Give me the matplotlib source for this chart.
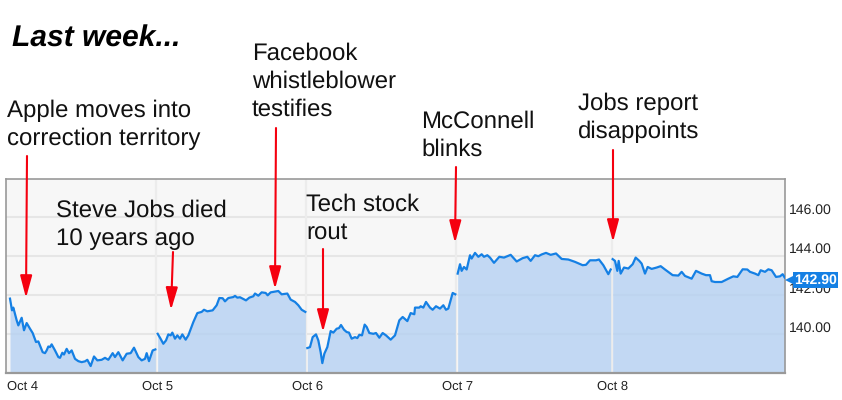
import matplotlib
matplotlib.use("Agg")
import matplotlib.pyplot as plt
from matplotlib.transforms import ScaledTranslation

# time axis: arbitrary intraday units, prices in USD
t1 = [30,36,40,50,55,65,72,80,90,98,108,115,128,135,140,145,150,155,165,175,180,187,192,200,207,215,225,235,245,255,262,272,282,292,305,315,325,338,345,355,368,380,392,402,415,425,435,440,447,458,466]
p1 = [141.83,141.23,141.37,140.72,140.46,140.85,140.21,140.58,140.29,140.07,139.61,139.64,139.09,139.04,139.18,139.38,139.35,139.49,139.18,138.84,138.80,139.06,138.97,139.26,139.04,139.18,138.75,138.63,138.58,138.62,138.70,138.38,138.87,138.67,138.70,138.80,138.70,139.04,138.84,139.09,138.67,139.01,139.04,139.32,138.84,138.67,138.75,139.04,138.63,139.18,139.23]
t2 = [473,480,490,498,505,512,517,525,532,540,547,557,565,580,592,605,612,622,638,650,658,668,675,685,700,705,712,720,738,748,760,765,775,785,797,803,812,835,845,862,872,885,895,905,916]
p2 = [140.03,139.83,139.52,139.69,140.00,139.95,140.09,139.78,139.95,139.78,140.00,139.73,139.95,140.63,141.09,141.15,141.26,141.18,141.23,141.49,141.86,141.85,141.69,141.86,141.91,141.97,141.88,141.90,141.74,141.88,141.95,142.09,141.98,142.15,142.12,142.00,142.15,142.22,142.05,142.09,141.78,141.66,141.49,141.26,141.15]
t3 = [922,930,938,948,955,962,967,973,982,992,1000,1010,1017,1023,1032,1040,1047,1055,1065,1072,1078,1086,1094,1100,1108,1120,1128,1138,1148,1158,1172,1185,1198,1208,1222,1232,1243,1245,1258,1262,1270,1278,1290,1298,1308,1320,1330,1338,1345,1358,1366]
p3 = [139.30,139.35,139.86,140.00,139.69,139.09,138.53,139.01,139.35,140.17,140.09,140.29,140.32,140.48,140.24,140.12,140.09,139.78,139.86,139.81,139.98,139.95,140.50,140.38,140.07,140.03,140.07,139.83,140.07,139.95,139.73,139.95,140.72,140.89,140.68,141.09,141.03,141.37,141.37,141.44,141.37,141.66,141.37,141.26,141.44,141.32,141.49,141.26,141.32,142.12,142.05]
t4 = [1373,1380,1385,1392,1400,1410,1415,1425,1435,1445,1452,1462,1470,1482,1498,1512,1532,1550,1568,1582,1592,1605,1615,1625,1638,1652,1668,1685,1705,1725,1748,1758,1770,1788,1797,1810,1825,1832]
p4 = [143.11,143.59,143.25,143.45,143.32,144.05,143.88,144.17,143.97,144.10,143.97,144.05,143.93,143.66,143.97,143.93,144.07,143.73,143.90,143.97,143.76,144.05,144.00,144.09,144.17,144.07,144.14,143.86,143.83,143.71,143.54,143.56,143.79,143.79,143.83,143.54,143.08,143.32]
t5 = [1838,1845,1852,1856,1862,1872,1885,1892,1898,1907,1918,1925,1935,1943,1955,1970,1982,1995,2018,2035,2045,2055,2075,2088,2105,2118,2130,2135,2145,2165,2185,2200,2212,2228,2242,2250,2265,2275,2282,2295,2305,2315,2328,2340,2348,2354]
p5 = [143.85,143.76,143.25,143.76,143.11,143.42,143.37,143.49,143.59,143.93,143.76,143.62,143.11,143.45,143.35,143.42,143.49,143.32,143.03,143.01,143.20,142.99,142.85,143.25,143.11,143.03,143.03,142.72,142.68,142.68,142.85,142.97,142.94,143.33,143.32,143.20,143.11,143.03,143.28,143.20,143.33,143.28,142.94,142.97,143.08,142.91]
sessions = [(t1, p1), (t2, p2), (t3, p3), (t4, p4), (t5, p5)]

session_starts = [469, 919, 1369, 1835]
day_labels = ["Oct 4", "Oct 5", "Oct 6", "Oct 7", "Oct 8"]
day_ticks = [22, 472, 922, 1372, 1838]
price_ticks = [140, 142, 144, 146]
last_price = 142.90

notes = [
    (["Apple moves into", "correction territory"], 7, 117, (27, 156), (26, 298)),
    (["Steve Jobs died", "10 years ago"], 56, 217, (173, 252), (171, 310)),
    (["Facebook", "whistleblower", "testifies"], 252, 60, (276, 128), (275, 289)),
    (["Tech stock", "rout"], 306, 211, (323, 249), (323, 332)),
    (["McConnell", "blinks"], 421, 128, (456, 167), (455, 243)),
    (["Jobs report", "disappoints"], 578, 110.5, (613, 150), (613, 242)),
]

plt.rcParams["font.family"] = ["Liberation Sans", "DejaVu Sans"]
plt.rcParams["text.hinting"] = "no_hinting"
plt.rcParams["text.hinting_factor"] = 1
W, H = 842, 400
fig = plt.figure(figsize=(W / 100, H / 100), dpi=100, facecolor="white")
ax = fig.add_axes([6 / W, (H - 372.5) / H, 779 / W, 193.5 / H])
ax.set_facecolor("#f7f7f7")
ax.set_xlim(18, 2355)
ax.set_ylim(138.05, 147.95)

for y in price_ticks:
    ax.axhline(y, color="#e6e6e6", lw=1.5, zorder=1)
for x in session_starts:
    ax.axvline(x, color="#ececec", lw=1.6, zorder=1)

for t, p in sessions:
    ax.fill_between(t, p, 138.05, color="#b3d0f2", alpha=0.78, lw=0, zorder=2)
    ax.plot(t, p, color="#1580e4", lw=1.6, solid_joinstyle="round", zorder=3)

for s in ax.spines.values():
    s.set_color("#999999")
    s.set_linewidth(1.2)
ax.spines["bottom"].set_linewidth(1.6)

ax.yaxis.tick_right()
ax.set_yticks(price_ticks)
ax.set_yticklabels([f"{v:.2f}" for v in price_ticks], fontsize=10, color="#222222",
                   va="bottom")
down = ScaledTranslation(0, -2.5 / 100, fig.dpi_scale_trans)
for lab in ax.get_yticklabels():
    lab.set_transform(lab.get_transform() + down)
ax.tick_params(axis="y", length=0, pad=3)
ax.set_xticks(day_ticks)
ax.set_xticklabels(day_labels, fontsize=9.4, color="#222222")
ax.get_xticklabels()[0].set_ha("left")
ax.get_xticklabels()[0].set_x(18)
ax.tick_params(axis="x", length=0, pad=6)

# price tag
tag_shift = ScaledTranslation(7 / 100, -2.5 / 100, fig.dpi_scale_trans)
ax.plot([2355], [last_price], marker="<", ms=10, mew=0, color="#1580e4", clip_on=False,
        zorder=6, transform=ax.transData + tag_shift)
ax.annotate(f"{last_price:.2f}", xy=(2355, last_price), xycoords="data",
            xytext=(6.6, -1.8), textcoords="offset points", ha="left", va="center",
            fontsize=9.8, fontweight="bold", color="white", annotation_clip=False, zorder=7,
            bbox=dict(boxstyle="square,pad=0.1", fc="#1580e4", ec="none"))

# annotation layer in picture pixels
ov = fig.add_axes([0, 0, 1, 1], facecolor="none")
ov.set_xlim(0, W)
ov.set_ylim(H, 0)
ov.axis("off")
ov.text(12, 47, "Last week...", fontsize=21.7, fontweight="bold", fontstyle="italic",
        color="black", va="baseline", ha="left")
for lines, x, base, tail, tip in notes:
    for i, line in enumerate(lines):
        ov.text(x, base + i * 28, line, fontsize=17.45, color="#111111", va="baseline", ha="left")
    ov.annotate("", xy=tip, xytext=tail, xycoords="data", textcoords="data",
                arrowprops=dict(arrowstyle="-|>,head_length=13.5,head_width=3.6", mutation_scale=1,
                                color="#f5000f", lw=1.5, shrinkA=0, shrinkB=0))

fig.savefig("out.png", dpi=100)
